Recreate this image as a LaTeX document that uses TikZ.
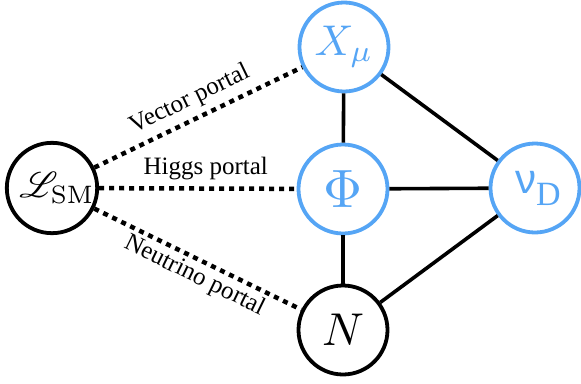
\documentclass[tikz,border=0pt]{standalone}
\usepackage{fontspec}
\usepackage{mathrsfs}
\newfontfamily\greekfont{Liberation Sans}
\newfontfamily\labelfont{Liberation Serif}
\definecolor{darkblue}{RGB}{85,165,245}

\begin{document}
\begin{tikzpicture}[x=1pt,y=-1pt,
    smnode/.style={circle, draw=black, line width=3.8pt, fill=white, minimum size=89pt, inner sep=0pt},
    darknode/.style={circle, draw=darkblue, line width=3.8pt, fill=white, minimum size=89pt, inner sep=0pt, text=darkblue},
    portal/.style={line width=4.5pt, dash pattern=on 5pt off 5pt},
    link/.style={line width=3.6pt},
    labelnode/.style={font=\labelfont\fontsize{25}{25}\selectfont, inner sep=6pt}]
\useasboundingbox (0,0) rectangle (581,383);
% fields
\node[smnode] (lsm) at (52,188) {\hspace{10pt}\scalebox{3.6}{$\mathscr{L}_{\mathrm{SM}}$}};
\node[darknode] (xmu) at (344,47) {\scalebox{4.3}{$X_\mu$}};
\node[darknode] (phi) at (343,189) {\scalebox{5.4}{$\Phi$}};
\node[darknode] (nud) at (535,188) {\hspace{6pt}{\greekfont\fontsize{42}{42}\selectfont ν}\raisebox{-12pt}{\labelfont\fontsize{34}{34}\selectfont D}};
\node[smnode] (n) at (343,330) {\scalebox{4.6}{$N$}};
% portals
\draw[portal] (lsm) -- node[labelnode, midway, above, sloped] {Vector portal} (xmu);
\draw[portal] (lsm) -- node[labelnode, pos=0.54, above] {Higgs portal} (phi);
\draw[portal] (lsm) -- node[labelnode, pos=0.52, below, sloped, inner sep=3pt] {Neutrino portal} (n);
% dark sector links
\foreach \a/\b in {xmu/phi,xmu/nud,phi/nud,phi/n,n/nud} {
    \draw[link] (\a) -- (\b);
}
\end{tikzpicture}
\end{document}
